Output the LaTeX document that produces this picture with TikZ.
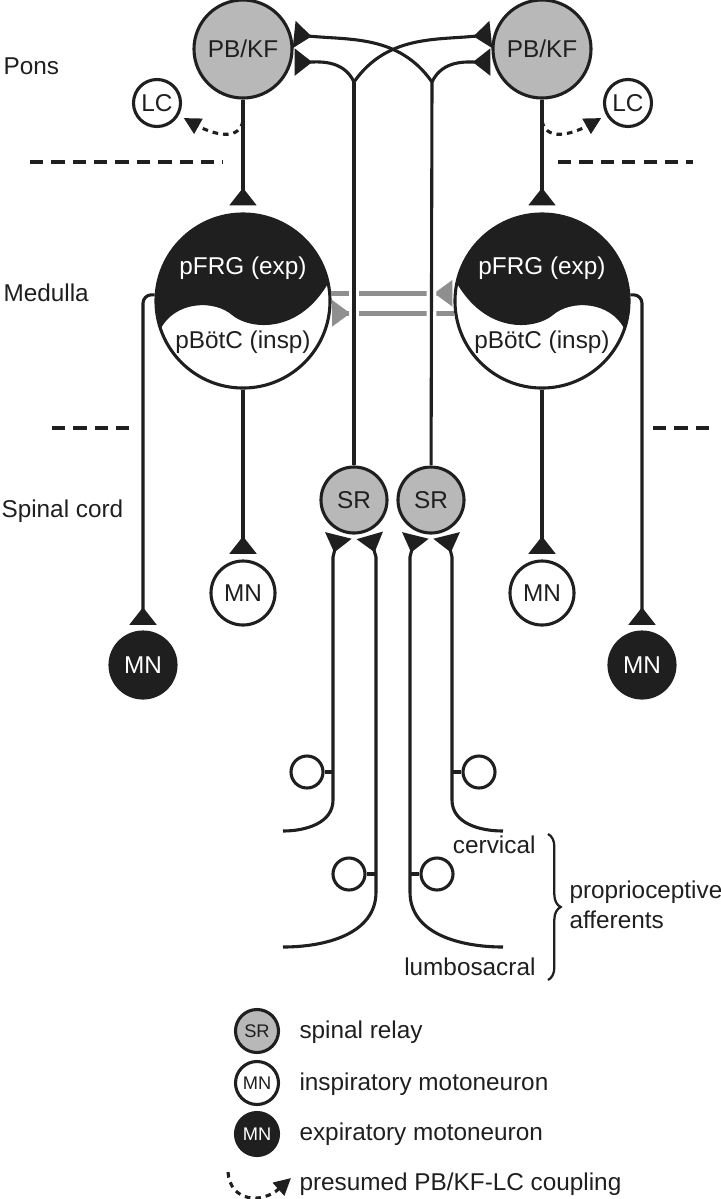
\documentclass[tikz,border=0pt]{standalone}
\usepackage{fontspec}
\setmainfont{Liberation Sans}
\usetikzlibrary{arrows.meta,decorations.pathreplacing}

\definecolor{ink}{gray}{0.12}
\definecolor{relaygray}{gray}{0.72}
\definecolor{bargray}{gray}{0.56}

\newcommand{\labelfont}{\fontsize{17.3pt}{21pt}\selectfont}
\newcommand{\keyfont}{\fontsize{13pt}{15pt}\selectfont}
% black upper half of a rhythm generator (centre at origin, radius 87)
\newcommand{\expfill}{%
  \fill (-95,95) -- (-95,-29) -- (-83,-29)
    .. controls (-68,1) and (-28,1) .. (-11,-14)
    .. controls (7,-29) and (57,-34) .. (87,21) -- (95,21) -- (95,95) -- cycle;}

\tikzset{
  cell/.style={circle, draw, line width=2.2pt, inner sep=0pt},
  pbkf/.style={cell, fill=relaygray, minimum size=2.45cm},
  lc/.style={cell, fill=white, minimum size=1.175cm},
  rhythm/.style={cell, minimum size=4.35cm},
  relay/.style={cell, fill=relaygray, minimum size=1.65cm},
  inspmn/.style={cell, fill=white, minimum size=1.6cm},
  expmn/.style={cell, fill=ink, text=white, minimum size=1.65cm},
  drg/.style={cell, fill=white, minimum size=0.8cm},
  keycell/.style={cell, minimum size=1.075cm, font=\keyfont},
  syn/.style={-{Triangle[reversed, length=12.5pt, width=19pt]}, shorten >=2pt},
  gbar/.style={draw=bargray, line width=3.6pt, -{Triangle[reversed, length=13pt, width=18pt]}, shorten >=1pt},
  coupling/.style={dash pattern=on 4pt off 3.5pt, -{Triangle[length=12pt, width=12pt]}, shorten >=4pt},
  sep/.style={line width=2.2pt, dash pattern=on 9.5pt off 5.7pt},
  region/.style={anchor=base west, inner sep=0pt}
}

\begin{document}
\begin{tikzpicture}[x=0.025cm, y=0.025cm, color=ink, line width=2.2pt, every node/.style={font=\labelfont}]
	\useasboundingbox (0,0) rectangle (721,-1199);

	% Pons
	\node[pbkf] (pbkfL) at (243,-49) {PB/KF};
	\node[pbkf] (pbkfR) at (542,-49) {PB/KF};
	\node[lc] (lcL) at (157,-103) {LC};
	\node[lc] (lcR) at (628,-103) {LC};

	% Medulla: split rhythm generators
	\begin{scope}[shift={(243,-301)}]
		\clip (0,0) circle [radius=2.175cm];
		\expfill
	\end{scope}
	\begin{scope}[shift={(542,-301)}, xscale=-1]
		\clip (0,0) circle [radius=2.175cm];
		\expfill
	\end{scope}
	\node[rhythm] (pfrgL) at (243,-301) {};
	\node[rhythm] (pfrgR) at (542,-301) {};
	\node[text=white] (expL) at (243,-268) {pFRG (exp)};
	\node[text=white] (expR) at (542,-268) {pFRG (exp)};
	\node (inspL) at (243,-342) {pBötC (insp)};
	\node (inspR) at (542,-342) {pBötC (insp)};

	% Spinal cord
	\node[relay] (sr1) at (354,-500) {SR};
	\node[relay] (sr2) at (431,-500) {SR};
	\node[inspmn] (mnIL) at (243,-593) {MN};
	\node[inspmn] (mnIR) at (542,-593) {MN};
	\node[expmn] (mnEL) at (143,-665) {MN};
	\node[expmn] (mnER) at (642,-665) {MN};
	\node[drg] (drg1) at (307,-772) {};
	\node[drg] (drg2) at (349,-874) {};
	\node[drg] (drg3) at (437,-874) {};
	\node[drg] (drg4) at (479,-772) {};

	% region labels and separators
	\node[region] (pons) at (2,-74) {Pons};
	\node[region] (medulla) at (2,-301) {Medulla};
	\node[region] (spinal) at (0,-517) {Spinal cord};
	\draw[sep] (30,-162) -- (223,-162);
	\draw[sep] (558,-162) -- (693,-162);
	\draw[sep] (52,-428) -- (130,-428);
	\draw[sep] (653,-428) -- (712,-428);

	% descending pathways
	\draw[syn, shorten >=5pt] (pbkfL) -- (pfrgL);
	\draw[syn, shorten >=5pt] (pbkfR) -- (pfrgR);
	\draw[syn, shorten >=4pt] (pfrgL) -- (mnIL);
	\draw[syn, shorten >=4pt] (pfrgR) -- (mnIR);
	\draw[syn, shorten >=4pt, rounded corners=6pt] (pfrgL.176) -| (mnEL);
	\draw[syn, shorten >=4pt, rounded corners=6pt] (pfrgR.4) -| (mnER);

	% PB/KF-LC coupling
	\coordinate (cpL) at (243,-121);
	\coordinate (cpR) at (542,-121);
	\draw[coupling] (cpL) .. controls (238,-145) and (205,-130) .. (lcL);
	\draw[coupling] (cpR) .. controls (547,-145) and (580,-130) .. (lcR);

	% commissural coupling
	\draw[gbar] (pfrgL.5) -- (pfrgR.175);
	\draw[gbar] (pfrgR.188) -- (pfrgL.-8);

	% ascending relay axons
	\coordinate (br1) at (354,-82);
	\coordinate (br2) at (432,-82);
	\draw[preaction={draw=white, line width=7pt}] (sr1) -- (br1);
	\draw[preaction={draw=white, line width=7pt}] (sr2) -- (br2);
	\draw[syn] (br1) to[out=115, in=0] (pbkfL.-15);
	\draw[syn] (br1) to[out=55, in=186] (pbkfR.163);
	\draw[syn] (br2) to[out=65, in=180] (pbkfR.195);
	\draw[syn] (br2) to[out=125, in=-6] (pbkfL.17);

	% proprioceptive afferents
	\coordinate (cerv1) at (283,-831);
	\coordinate (lumb1) at (283,-947);
	\coordinate (lumb2) at (503,-947);
	\coordinate (cerv2) at (503,-831);
	\coordinate (a1) at (333,-557);
	\coordinate (a2) at (376,-557);
	\coordinate (a3) at (410,-557);
	\coordinate (a4) at (452,-557);
	\draw[syn, shorten >=3pt] (cerv1) to[out=0, in=-90] (333,-800) -- (a1) -- (sr1.245);
	\draw[syn, shorten >=3pt] (lumb1) to[out=0, in=-90] (376,-892) -- (a2) -- (sr1.295);
	\draw[syn, shorten >=3pt] (lumb2) to[out=180, in=-90] (410,-892) -- (a3) -- (sr2.245);
	\draw[syn, shorten >=3pt] (cerv2) to[out=180, in=-90] (452,-800) -- (a4) -- (sr2.295);
	\draw (drg1) -- (drg1 -| a1);
	\draw (drg2) -- (drg2 -| a2);
	\draw (drg3) -- (drg3 -| a3);
	\draw (drg4) -- (drg4 -| a4);
	\node[anchor=base east, inner sep=0pt] (cervical) at (537,-853) {cervical};
	\node[anchor=base east, inner sep=0pt] (lumbosacral) at (537,-975) {lumbosacral};
	\draw[line width=1.6pt, decorate, decoration={brace, amplitude=9pt}] (548,-834) -- (548,-980);
	\node[anchor=west, align=left, inner sep=0pt] (afferents) at (568,-905) {proprioceptive\\afferents};

	% key
	\node[keycell, fill=relaygray] (keySR) at (257,-1031) {SR};
	\node[keycell, fill=white] (keyMNi) at (257,-1083) {MN};
	\node[keycell, fill=ink, text=white] (keyMNe) at (257,-1134) {MN};
	\node[region] at (298,-1038) {spinal relay};
	\node[region] at (298,-1090) {inspiratory motoneuron};
	\node[region] at (298,-1140) {expiratory motoneuron};
	\coordinate (keyA) at (228,-1172);
	\coordinate (keyB) at (291,-1178);
	\draw[coupling, shorten >=0pt] (keyA) .. controls (230,-1202) and (262,-1204) .. (keyB);
	\node[region] at (298,-1190) {presumed PB/KF-LC coupling};
\end{tikzpicture}
\end{document}
